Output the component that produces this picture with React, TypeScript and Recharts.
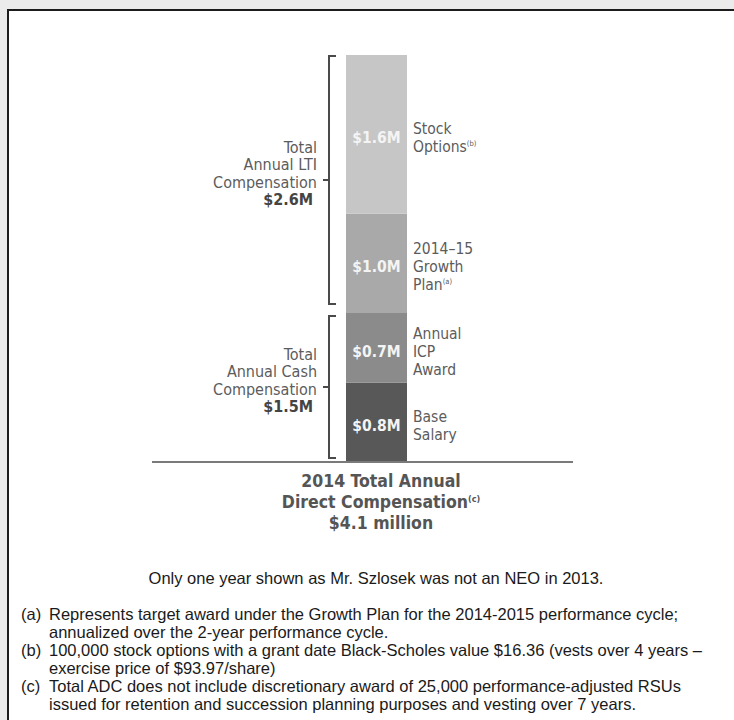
import { ComposedChart, Bar, XAxis, YAxis, LabelList } from "recharts";

// values in $ millions
const categories = ["2014"];
const baseSalary = [0.8];
const icpAward = [0.7];
const growthPlan = [1.0];
const stockOptions = [1.6];
const cashTotal = [1.5];
const ltiTotal = [2.6];

const baseNames = ["Base", "Salary"];
const icpNames = ["Annual", "ICP", "Award"];
const growthNames = ["2014–15", "Growth", "Plan"];
const stockNames = ["Stock", "Options"];
const cashNames = ["Total", "Annual Cash", "Compensation"];
const ltiNames = ["Total", "Annual LTI", "Compensation"];

const titleLines = ["2014 Total Annual", "Direct Compensation", "$4.1 million"];
const note = "Only one year shown as Mr. Szlosek was not an NEO in 2013.";
const footnoteKeys = ["(a)", "(b)", "(c)"];
const footnoteLines = [
  ["Represents target award under the Growth Plan for the 2014-2015 performance cycle;", "annualized over the 2-year performance cycle."],
  ["100,000 stock options with a grant date Black-Scholes value $16.36 (vests over 4 years –", "exercise price of $93.97/share)"],
  ["Total ADC does not include discretionary award of 25,000 performance-adjusted RSUs", "issued for retention and succession planning purposes and vesting over 7 years."],
];

const data = categories.map((name, i) => ({
  name,
  cash: cashTotal[i],
  lti: ltiTotal[i],
  base: baseSalary[i],
  icp: icpAward[i],
  growth: growthPlan[i],
  stock: stockOptions[i],
}));

const FONT = "'DejaVu Sans Condensed', 'DejaVu Sans', sans-serif";
const ARIAL = "'Liberation Sans', Arial, sans-serif";
const money = (v: number) => `$${v.toFixed(1)}M`;

function bracketShape(lines: string[], total: number, insetTop: number, insetBottom: number) {
  return (props: any) => {
    const { x, y, width, height } = props;
    const bx = x + width;
    const top = y + insetTop;
    const bottom = y + height - insetBottom;
    const mid = (top + bottom) / 2;
    const all = [...lines, money(total)];
    return (
      <g>
        <path
          d={`M${bx + 7},${top} H${bx} V${bottom} H${bx + 7} M${bx - 6},${mid} H${bx}`}
          fill="none"
          stroke="#4a4a4a"
          strokeWidth={2}
        />
        {all.map((t, i) => {
          const last = i === all.length - 1;
          return (
            <text
              key={i}
              x={last ? bx - 16 : bx - 12}
              y={mid - 33 + i * 17.5}
              textAnchor="end"
              dominantBaseline="central"
              fontFamily={FONT}
              fontSize={16}
              fontWeight={last ? 700 : 400}
              fill={last ? "#444" : "#5c5c5c"}
            >
              {t}
            </text>
          );
        })}
      </g>
    );
  };
}

function sideLabel(lines: string[], sup?: string) {
  return (props: any) => {
    const vb = props.viewBox || props;
    const x = vb.x;
    const y = vb.y;
    const width = vb.width;
    const height = vb.height;
    const cy = y + height / 2 + 4;
    const start = cy - ((lines.length - 1) * 18) / 2;
    return (
      <g>
        <text
          x={x + width / 2}
          y={cy}
          textAnchor="middle"
          dominantBaseline="central"
          fontFamily={FONT}
          fontSize={15.5}
          fontWeight={700}
          fill="#f4f4f4"
        >
          {money(props.value)}
        </text>
        {lines.map((t, i) => (
          <text
            key={i}
            x={x + width + 6}
            y={start + i * 18}
            dominantBaseline="central"
            fontFamily={FONT}
            fontSize={15.5}
            fill="#5c5c5c"
          >
            {t}
            {sup && i === lines.length - 1 ? (
              <tspan fontSize={7.5} dy={-4}>
                {sup}
              </tspan>
            ) : null}
          </text>
        ))}
      </g>
    );
  };
}

export default function App() {
  return (
    <div style={{ position: "absolute", left: 0, top: 0, width: 734, height: 720, background: "#ebebeb", overflow: "hidden" }}>
      <div
        style={{
          position: "absolute",
          left: 7,
          top: 9,
          width: 740,
          height: 720,
          background: "#fff",
          borderLeft: "2px solid #1c1c1c",
          borderTop: "2px solid #1c1c1c",
        }}
      />
      <div style={{ position: "absolute", left: 0, top: 0 }}>
        <ComposedChart
          width={734}
          height={470}
          data={data}
          barGap={17}
          margin={{ top: 55, right: 161, left: 152, bottom: 0 }}
        >
          <XAxis dataKey="name" tick={false} tickLine={false} height={8} axisLine={{ stroke: "#7a7a7a", strokeWidth: 2 }} />
          <YAxis hide domain={[0, 4.1]} allowDataOverflow />
          <Bar dataKey="cash" stackId="brackets" barSize={10} isAnimationActive={false} shape={bracketShape(cashNames, cashTotal[0], 3, 4)} />
          <Bar dataKey="lti" stackId="brackets" barSize={10} isAnimationActive={false} shape={bracketShape(ltiNames, ltiTotal[0], 1, 9)} />
          <Bar dataKey="base" stackId="adc" barSize={61} fill="#585858" isAnimationActive={false}>
            <LabelList dataKey="base" content={sideLabel(baseNames)} />
          </Bar>
          <Bar dataKey="icp" stackId="adc" barSize={61} fill="#8b8b8b" isAnimationActive={false}>
            <LabelList dataKey="icp" content={sideLabel(icpNames)} />
          </Bar>
          <Bar dataKey="growth" stackId="adc" barSize={61} fill="#a9a9a9" isAnimationActive={false}>
            <LabelList dataKey="growth" content={sideLabel(growthNames, "(a)")} />
          </Bar>
          <Bar dataKey="stock" stackId="adc" barSize={61} fill="#c6c6c6" isAnimationActive={false}>
            <LabelList dataKey="stock" content={sideLabel(stockNames, "(b)")} />
          </Bar>
        </ComposedChart>
      </div>
      <div
        style={{
          position: "absolute",
          left: 261,
          top: 471,
          width: 240,
          textAlign: "center",
          fontFamily: FONT,
          fontSize: 17.5,
          fontWeight: 700,
          lineHeight: "21px",
          color: "#555",
        }}
      >
        {titleLines.map((t, i) => (
          <div key={i}>
            {t}
            {i === 1 ? (
              <span style={{ fontSize: 9, lineHeight: 0, verticalAlign: 6 }}>(c)</span>
            ) : null}
          </div>
        ))}
      </div>
      <div
        style={{
          position: "absolute",
          left: 76,
          top: 568,
          width: 600,
          textAlign: "center",
          fontFamily: ARIAL,
          fontSize: 16.5,
          lineHeight: "20px",
          color: "#1a1a1a",
        }}
      >
        {note}
      </div>
      <div
        style={{
          position: "absolute",
          left: 21,
          top: 605,
          width: 712,
          fontFamily: ARIAL,
          fontSize: 16.5,
          lineHeight: "18px",
          color: "#1a1a1a",
          whiteSpace: "nowrap",
        }}
      >
        {footnoteKeys.map((k, i) => (
          <div key={k} style={{ display: "flex" }}>
            <div style={{ width: 28, flex: "none" }}>{k}</div>
            <div>
              {footnoteLines[i].map((t, j) => (
                <div key={j}>{t}</div>
              ))}
            </div>
          </div>
        ))}
      </div>
    </div>
  );
}
